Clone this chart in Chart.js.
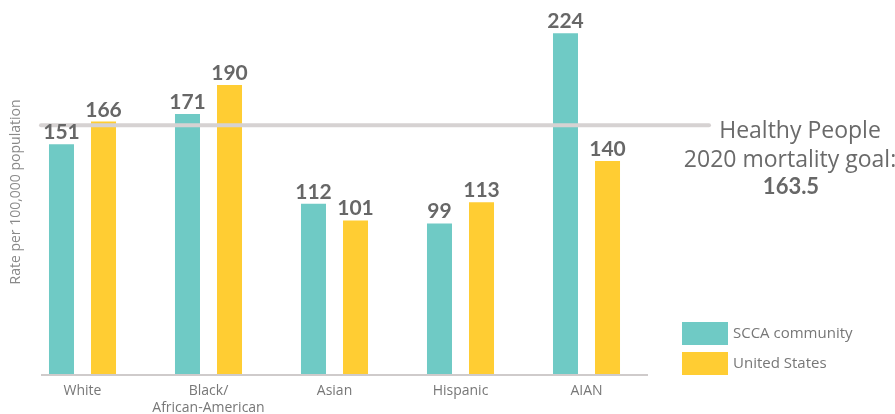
<!DOCTYPE html>
<html>
<head>
<meta charset="utf-8">
<script src="https://cdn.jsdelivr.net/npm/chart.js"></script>
<style>
  html, body { margin: 0; padding: 0; background: #fff; }
  #wrap { width: 895px; height: 414px; }
</style>
</head>
<body>
<div id="wrap"><canvas id="myChart"></canvas></div>
<script>
// datos del grafico
const categorias = ['White', ['Black/', 'African-American'], 'Asian', 'Hispanic', 'AIAN'];
const scca = [151, 171, 112, 99, 224];
const usa = [166, 190, 101, 113, 140];
const nombresSeries = ['SCCA community', 'United States'];
const meta = 163.5;
const textoMeta = ['Healthy People', '2020 mortality goal:'];
const tituloY = 'Rate per 100,000 population';

// linea de meta, etiquetas y leyenda dibujadas a mano
const extras = {
  id: 'extras',
  afterDatasetsDraw(chart) {
    const ctx = chart.ctx;
    const y = chart.scales.y;
    const area = chart.chartArea;
    ctx.save();

    // eje x
    ctx.strokeStyle = '#cfcbcb';
    ctx.lineWidth = 2;
    ctx.beginPath();
    ctx.moveTo(41, area.bottom + 1);
    ctx.lineTo(648, area.bottom + 1);
    ctx.stroke();

    // linea de meta
    const yMeta = y.getPixelForValue(meta);
    ctx.strokeStyle = '#d6d2d2';
    ctx.lineWidth = 4;
    ctx.lineCap = 'round';
    ctx.beginPath();
    ctx.moveTo(41, yMeta);
    ctx.lineTo(709, yMeta);
    ctx.stroke();

    // valores sobre las barras
    ctx.fillStyle = '#676767';
    ctx.font = 'bold 21px Lato';
    ctx.textAlign = 'center';
    ctx.textBaseline = 'alphabetic';
    chart.data.datasets.forEach((ds, i) => {
      chart.getDatasetMeta(i).data.forEach((bar, j) => {
        ctx.fillText(String(ds.data[j]), bar.x, bar.y - 5);
      });
    });

    // texto de la meta
    ctx.fillStyle = '#6a6a6a';
    ctx.font = '23px "Open Sans"';
    ctx.textBaseline = 'middle';
    ctx.fillText(textoMeta[0], 800, yMeta + 6);
    ctx.fillText(textoMeta[1], 790, yMeta + 35);
    ctx.font = 'bold 22px Lato';
    ctx.fillStyle = '#676767';
    ctx.fillText(String(meta), 791, yMeta + 62);

    // titulo eje y
    ctx.fillStyle = '#8a8a8a';
    ctx.font = '14px "Open Sans"';
    ctx.translate(16, 192);
    ctx.rotate(-Math.PI / 2);
    ctx.fillText(tituloY, 0, 0);
    ctx.setTransform(1, 0, 0, 1, 0, 0);

    // leyenda
    ctx.textAlign = 'left';
    ctx.font = '15px "Open Sans"';
    chart.data.datasets.forEach((ds, i) => {
      const top = 322 + i * 30;
      ctx.fillStyle = ds.backgroundColor;
      ctx.fillRect(682, top, 46, 23);
      ctx.fillStyle = '#777';
      ctx.fillText(ds.label, 733, top + 12);
    });

    ctx.restore();
  }
};

const ctx = document.getElementById('myChart');

const myChart = new Chart(ctx, {
  type: 'bar',
  data: {
    labels: categorias,
    datasets: [
      { label: nombresSeries[0], data: scca, backgroundColor: '#6fcac5' },
      { label: nombresSeries[1], data: usa, backgroundColor: '#ffcd33' }
    ]
  },
  options: {
    responsive: true,
    maintainAspectRatio: false,
    animation: false,
    categoryPercentage: 0.667,
    barPercentage: 0.595,
    layout: { padding: { left: 19.5, right: 245.5, top: 9, bottom: 0 } },
    plugins: {
      legend: { display: false },
      tooltip: { enabled: false }
    },
    scales: {
      x: {
        grid: { display: false, drawTicks: false },
        border: { display: false },
        afterFit: (scale) => { scale.height = 40; },
        ticks: {
          color: '#777',
          padding: 8,
          font: { family: 'Open Sans', size: 14, lineHeight: 1.25 }
        }
      },
      y: {
        display: false,
        min: 0,
        max: 240
      }
    }
  },
  plugins: [extras]
});
</script>
</body>
</html>
